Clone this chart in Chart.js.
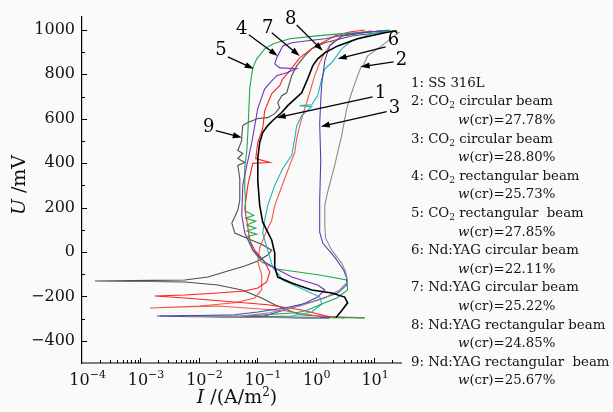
<!DOCTYPE html>
<html>
<head>
<meta charset="utf-8">
<script src="https://cdn.jsdelivr.net/npm/chart.js@4.4.1/dist/chart.umd.min.js"></script>
<style>
  html, body { margin: 0; padding: 0; background: #fafafa; }
</style>
</head>
<body>
<canvas id="chart" width="613" height="412"></canvas>
<script>
const SERIF = '"DejaVu Serif", "Liberation Serif", serif';

// polarization curves, points are [I (A/m2), U (mV)]
const curve1 = [
  [2.2, -296], [2.78, -265], [3.52, -229],
  [3.13, -203], [1.88, -185], [0.855, -171], [0.389, -140], [0.224, -113], [0.199, -68],
  [0.199, -5], [0.177, 53], [0.124, 134], [0.110, 210], [0.102, 322], [0.102, 421],
  [0.110, 493], [0.124, 538], [0.151, 569], [0.184, 592], [0.262, 628], [0.332, 659],
  [0.576, 717], [0.730, 780], [0.889, 838], [1.08, 870], [1.43, 897], [2.38, 928],
  [5.22, 960], [15.1, 987], [24.3, 996]
];
const curve2 = [
  [1.17, -297], [0.00577, -292], [0.0502, -290], [0.164, -274], [0.532, -243], [1.43, -207],
  [2.57, -171], [3.52, -135], [3.26, -90], [2.78, -50], [1.88, 8], [1.48, 62], [1.43, 121],
  [1.43, 210], [1.60, 269], [2.11, 390], [2.78, 524], [3.39, 646], [4.12, 717], [5.22, 794],
  [5.88, 829], [6.6, 843], [7.75, 883], [13.4, 928], [27.3, 991]
];
const curve3 = [
  [0.961, -297], [0.00215, -288], [0.0104, -286], [0.0412, -283], [0.102, -270], [0.295, -252],
  [0.855, -225], [2.38, -185], [3.39, -149], [3.39, -117], [3.01, -81], [2.11, -23], [1.32, 40],
  [1.17, 89], [1.17, 233], [1.22, 412], [1.17, 578], [1.22, 681], [1.27, 758], [1.43, 861],
  [1.73, 928], [2.89, 973], [8.38, 991], [18.4, 1000]
];
const curve4 = [
  [1.73, -297], [0.00191, -288], [0.0229, -290], [0.134, -288], [0.224, -270], [0.576, -238],
  [1.08, -203], [1.43, -171], [1.08, -149], [0.730, -135], [0.389, -113], [0.199, -72],
  [0.134, -45], [0.0838, 8], [0.0611, 85], [0.0543, 165], [0.0565, 300], [0.0662, 390],
  [0.0805, 493], [0.0906, 569], [0.102, 646], [0.134, 735], [0.177, 771], [0.215, 794],
  [0.319, 807], [0.473, 825], [0.242, 829], [0.199, 847], [0.215, 874], [0.273, 928],
  [0.389, 942], [0.730, 951], [1.43, 960], [3.81, 982], [13.4, 996]
];
const curve5 = [
  [6.88, -297], [0.00473, -288], [0.0502, -290], [0.473, -274], [0.730, -261], [1.43, -229],
  [2.29, -207], [3.52, -171], [3.39, -126], [1.17, -104], [0.215, -77], [0.119, -45],
  [0.0838, 8], [0.0745, 53], [0.0689, 71], [0.098, 80], [0.0662, 94], [0.0942, 107],
  [0.0662, 121], [0.0942, 139], [0.0635, 152], [0.0871, 165], [0.0635, 183], [0.0611, 291],
  [0.0611, 381], [0.0662, 457], [0.0689, 533], [0.0716, 637], [0.0745, 740], [0.0838, 829],
  [0.098, 870], [0.134, 915], [0.184, 937], [0.359, 960], [1.04, 973], [2.57, 982],
  [8.38, 991], [22.4, 996]
];
const curve6 = [
  [1.73, -297], [0.0188, -292], [0.110, -292], [0.389, -288], [0.855, -270], [1.27, -234],
  [1.17, -203], [0.649, -171], [0.273, -126], [0.184, -68], [0.145, 22], [0.124, 85],
  [0.134, 143], [0.151, 210], [0.199, 300], [0.273, 376], [0.389, 435], [0.438, 511],
  [0.473, 569], [0.576, 614], [0.855, 654], [0.532, 659], [0.855, 663], [1.08, 704],
  [1.27, 780], [1.43, 825], [1.88, 852], [2.29, 883], [2.78, 915], [4.12, 951],
  [9.06, 982], [17.0, 996]
];
const curve7 = [
  [2.11, -297], [0.576, -261], [0.151, -238], [0.0412, -225], [0.00577, -207], [0.00177, -198],
  [0.00577, -194], [0.0211, -185], [0.0611, -176], [0.102, -162], [0.145, -135], [0.164, -90],
  [0.134, -45], [0.0906, 8], [0.0745, 53], [0.0689, 112], [0.0611, 197], [0.0689, 300],
  [0.0838, 399], [0.164, 403], [0.0942, 421], [0.102, 493], [0.124, 556], [0.134, 637],
  [0.177, 713], [0.242, 749], [0.273, 780], [0.359, 816], [0.532, 874], [0.889, 919],
  [2.11, 973], [3.81, 991], [6.88, 1000]
];
const curve8 = [
  [6.88, -297], [1.08, -288], [0.295, -265], [0.0211, -243], [0.00145, -252], [0.0104, -243],
  [0.0412, -229], [0.0906, -207], [0.119, -171], [0.119, -104], [0.102, -45], [0.110, 17],
  [0.134, 76], [0.177, 143], [0.199, 210], [0.242, 269], [0.295, 331], [0.359, 390],
  [0.438, 448], [0.473, 511], [0.532, 569], [0.649, 646], [0.789, 717], [0.961, 794],
  [1.17, 852], [1.43, 897], [1.88, 942], [2.78, 973], [5.22, 987], [9.06, 996]
];
const curve9 = [
  [3.13, -297], [1.17, -288], [0.532, -283], [0.295, -256], [0.199, -238], [0.119, -207],
  [0.0543, -171], [0.0211, -149], [0.00577, -135], [0.00145, -133], [0.000167, -131],
  [0.00164, -128], [0.00577, -126], [0.0143, -113], [0.0313, -86], [0.0611, -63],
  [0.102, -41], [0.151, -14], [0.177, 8], [0.119, 35], [0.0805, 53], [0.0412, 85],
  [0.0367, 130], [0.0464, 188], [0.0502, 233], [0.0502, 331], [0.0464, 390], [0.0611, 403],
  [0.0464, 421], [0.0565, 444], [0.0464, 457], [0.0543, 502], [0.0543, 524], [0.0565, 569],
  [0.0689, 583], [0.102, 601], [0.151, 605], [0.199, 623], [0.242, 650], [0.224, 672],
  [0.262, 704], [0.319, 717], [0.389, 794], [0.473, 838], [0.649, 883], [0.855, 915],
  [1.43, 942], [4.12, 973], [15.1, 991]
];

const curves = [curve1, curve2, curve3, curve4, curve5, curve6, curve7, curve8, curve9];
const seriesNames = [
  'SS 316L', 'CO2 circular beam', 'CO2 circular beam', 'CO2 rectangular beam',
  'CO2 rectangular  beam', 'Nd:YAG circular beam', 'Nd:YAG circular beam',
  'Nd:YAG rectangular beam', 'Nd:YAG rectangular  beam'
];
const crValues = [null, '27.78', '28.80', '25.73', '27.85', '22.11', '25.22', '24.85', '25.67'];
const yTickValues = [-400, -200, 0, 200, 400, 600, 800, 1000];
const xTickExponents = [-4, -3, -2, -1, 0, 1];

const colors = ['#000000', '#8c8c8c', '#4646b4', '#7234b4', '#1fa84a', '#1eb4b4', '#ff2020', '#f05a4a', '#4a504a'];
const widths = [1.6, 1.1, 1.1, 1.1, 1.1, 1.1, 1.1, 1.1, 1.1];

// curve labels: where the number sits, and the arrow from tail to tip (data coords)
const callouts = [
  { n: '1', text: [12.9, 713], tail: [9.43, 699], tip: [0.215, 605] },
  { n: '2', text: [29.5, 861], tail: [21.5, 856], tip: [5.88, 834] },
  { n: '3', text: [22.4, 646], tail: [16.4, 632], tip: [1.22, 565] },
  { n: '4', text: [0.0543, 1004], tail: [0.0716, 978], tip: [0.224, 883] },
  { n: '5', text: [0.0238, 906], tail: [0.0313, 879], tip: [0.0871, 825] },
  { n: '6', text: [21.5, 951], tail: [15.7, 924], tip: [2.38, 870] },
  { n: '7', text: [0.151, 1009], tail: [0.177, 987], tip: [0.532, 883] },
  { n: '8', text: [0.374, 1049], tail: [0.473, 1022], tip: [1.32, 906] },
  { n: '9', text: [0.0148, 560], tail: [0.0195, 547], tip: [0.0543, 515] }
];

function drawRich(ctx, parts, x, y) {
  for (const p of parts) {
    ctx.font = (p.italic ? 'italic ' : '') + p.size + 'px ' + SERIF;
    ctx.fillText(p.t, x, y + (p.dy || 0));
    x += ctx.measureText(p.t).width;
  }
  return x;
}

function richWidth(ctx, parts) {
  let w = 0;
  for (const p of parts) {
    ctx.font = (p.italic ? 'italic ' : '') + p.size + 'px ' + SERIF;
    w += ctx.measureText(p.t).width;
  }
  return w;
}

function nameParts(text, size) {
  const k = text.indexOf('CO2');
  if (k < 0) return [{ t: text, size }];
  return [
    { t: text.slice(0, k + 2), size },
    { t: '2', size: 9, dy: 3 },
    { t: text.slice(k + 3), size }
  ];
}

function arrow(ctx, x1, y1, x2, y2) {
  const a = Math.atan2(y2 - y1, x2 - x1);
  const len = 9, w = 3;
  ctx.beginPath();
  ctx.moveTo(x1, y1);
  ctx.lineTo(x2 - len * 0.7 * Math.cos(a), y2 - len * 0.7 * Math.sin(a));
  ctx.stroke();
  ctx.beginPath();
  ctx.moveTo(x2, y2);
  ctx.lineTo(x2 - len * Math.cos(a) + w * Math.sin(a), y2 - len * Math.sin(a) - w * Math.cos(a));
  ctx.lineTo(x2 - len * Math.cos(a) - w * Math.sin(a), y2 - len * Math.sin(a) + w * Math.cos(a));
  ctx.closePath();
  ctx.fill();
}

const decorations = {
  id: 'decorations',
  afterDraw(chart) {
    const ctx = chart.ctx;
    const xs = chart.scales.x, ys = chart.scales.y;
    const area = chart.chartArea;
    ctx.save();
    ctx.strokeStyle = '#000';
    ctx.fillStyle = '#111';

    // bottom axis line
    ctx.lineWidth = 1.2;
    ctx.beginPath();
    ctx.moveTo(area.left, area.bottom);
    ctx.lineTo(area.right, area.bottom);
    ctx.stroke();

    // inward ticks
    ctx.lineWidth = 1;
    ctx.beginPath();
    for (let v = -400; v <= 1000; v += 100) {
      const py = Math.round(ys.getPixelForValue(v)) + 0.5;
      const len = v % 200 === 0 ? 5 : 3;
      ctx.moveTo(area.left, py);
      ctx.lineTo(area.left + len, py);
    }
    for (const e of xTickExponents) {
      for (let k = 1; k <= 9; k++) {
        const v = k * Math.pow(10, e);
        if (v <= xs.min || v >= xs.max) continue;
        const px = Math.round(xs.getPixelForValue(v)) + 0.5;
        const len = k === 1 ? 5 : 3;
        ctx.moveTo(px, area.bottom);
        ctx.lineTo(px, area.bottom - len);
      }
    }
    ctx.stroke();

    // x tick labels 10^n
    ctx.textBaseline = 'alphabetic';
    ctx.textAlign = 'left';
    for (const e of xTickExponents) {
      const px = xs.getPixelForValue(Math.pow(10, e));
      ctx.font = '16px ' + SERIF;
      const w10 = ctx.measureText('10').width;
      const exp = e < 0 ? '\u2212' + (-e) : String(e);
      drawRich(ctx, [{ t: '10', size: 16 }, { t: exp, size: 11, dy: -7 }], px - 2.5 - w10 / 2, 385);
    }

    // axis titles
    const xTitle = [{ t: 'I', size: 19, italic: true }, { t: ' /(A/m', size: 19 }, { t: '2', size: 12, dy: -7 }, { t: ')', size: 19 }];
    drawRich(ctx, xTitle, 237 - richWidth(ctx, xTitle) / 2, 403);
    const yTitle = [{ t: 'U', size: 19, italic: true }, { t: ' /mV', size: 19 }];
    ctx.save();
    ctx.translate(25, 185);
    ctx.rotate(-Math.PI / 2);
    drawRich(ctx, yTitle, -richWidth(ctx, yTitle) / 2, 0);
    ctx.restore();

    // callouts
    ctx.lineWidth = 1.3;
    ctx.fillStyle = '#000';
    for (const c of callouts) {
      arrow(ctx, xs.getPixelForValue(c.tail[0]), ys.getPixelForValue(c.tail[1]),
        xs.getPixelForValue(c.tip[0]), ys.getPixelForValue(c.tip[1]));
      ctx.font = '18px ' + SERIF;
      ctx.textAlign = 'center';
      ctx.textBaseline = 'middle';
      ctx.fillText(c.n, xs.getPixelForValue(c.text[0]), ys.getPixelForValue(c.text[1]));
    }

    // key text block on the right
    ctx.textAlign = 'left';
    ctx.textBaseline = 'alphabetic';
    ctx.fillStyle = '#111';
    let line = 0;
    seriesNames.forEach((name, i) => {
      drawRich(ctx, nameParts((i + 1) + ': ' + name, 13.3), 411, 86.7 + 18.6 * line++);
      if (crValues[i]) {
        drawRich(ctx, [{ t: 'w', size: 13.3, italic: true }, { t: '(cr)=' + crValues[i] + '%', size: 13.3 }], 458, 86.7 + 18.6 * line++);
      }
    });
    ctx.restore();
  }
};

new Chart(document.getElementById('chart'), {
  type: 'scatter',
  data: {
    datasets: curves.map((c, i) => ({
      label: seriesNames[i],
      data: c.map(([x, y]) => ({ x, y })),
      showLine: true,
      borderColor: colors[i],
      backgroundColor: colors[i],
      borderWidth: widths[i],
      pointRadius: 0,
      tension: 0
    }))
  },
  options: {
    responsive: false,
    animation: false,
    devicePixelRatio: 1,
    layout: { padding: { left: 0, right: 211, top: 15, bottom: 49 } },
    plugins: { legend: { display: false }, tooltip: { enabled: false } },
    scales: {
      x: { type: 'logarithmic', min: 1e-4, max: 30, display: false },
      y: {
        type: 'linear',
        min: -500,
        max: 1060,
        afterBuildTicks: s => { s.ticks = yTickValues.map(v => ({ value: v })); },
        afterFit: s => { s.width = 82; },
        grid: { display: false, drawTicks: false },
        border: { display: true, color: '#000', width: 1.2 },
        ticks: {
          padding: 7,
          color: '#111',
          font: { family: SERIF, size: 16 },
          callback: v => v < 0 ? '\u2212' + Math.abs(v) : String(v)
        }
      }
    }
  },
  plugins: [decorations]
});
</script>
</body>
</html>
